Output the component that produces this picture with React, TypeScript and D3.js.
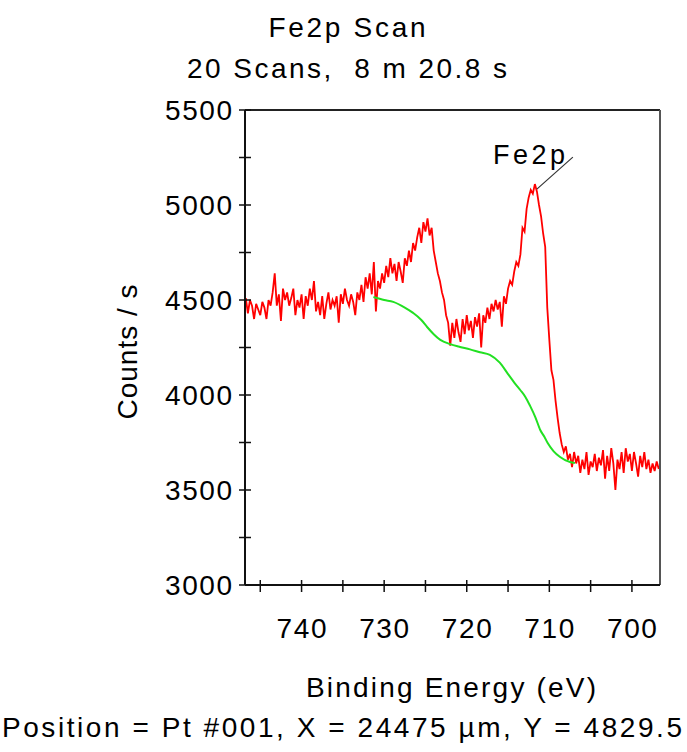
import React from "react";
import * as d3 from "d3";

// ---- data ----
const titleLines = ["Fe2p Scan", "20 Scans,  8 m 20.8 s"];
const xLabel = "Binding Energy (eV)";
const yLabel = "Counts / s";
const footer = "Position = Pt #001, X = 24475 \u00b5m, Y = 4829.5";

const xDomain = [746.85, 696.6];
const yDomain = [3000, 5500];
const xTickValues = [745, 740, 735, 730, 725, 720, 715, 710, 705, 700];
const xTickLabels = [740, 730, 720, 710, 700];
const yTickValues = [3000, 3250, 3500, 3750, 4000, 4250, 4500, 4750, 5000, 5250, 5500];
const yTickLabels = [3000, 3500, 4000, 4500, 5000, 5500];

// raw spectrum: first energy and step (eV), then counts/s
const energyStart = 746.75;
const energyStep = -0.25;
const spectrumCounts = [
  4510, 4430, 4500, 4470, 4400, 4480, 4450, 4420, 4490, 4460, 4400, 4500, 4470, 4540, 4640, 4470,
  4530, 4390, 4560, 4500, 4540, 4470, 4510, 4560, 4420, 4500, 4460, 4530, 4400, 4520, 4470, 4560,
  4500, 4600, 4440, 4490, 4420, 4520, 4400, 4480, 4540, 4450, 4500, 4470, 4520, 4380, 4530, 4480,
  4560, 4500, 4470, 4530, 4490, 4420, 4540, 4500, 4580, 4490, 4620, 4560, 4640, 4530, 4700, 4440,
  4600, 4560, 4640, 4590, 4680, 4620, 4720, 4640, 4690, 4600, 4700, 4650, 4590, 4720, 4680, 4760,
  4700, 4800, 4760, 4830, 4880, 4800, 4910, 4860, 4930, 4840, 4880, 4760, 4700, 4640, 4600, 4540,
  4500, 4420, 4380, 4260, 4380, 4300, 4400, 4330, 4280, 4400, 4320, 4420, 4340, 4390, 4300, 4410,
  4360, 4430, 4250, 4420, 4380, 4460, 4400, 4480, 4440, 4500, 4450, 4490, 4360, 4520, 4480, 4560,
  4600, 4580, 4650, 4700, 4680, 4740, 4880, 4860, 4980, 5040, 5080, 5060, 5110, 5070, 5000, 4940,
  4850, 4780, 4460, 4290, 4130, 4080, 3970, 3880, 3800, 3740, 3700, 3730, 3660, 3690, 3620, 3700,
  3640, 3680, 3590, 3660, 3610, 3700, 3580, 3650, 3620, 3690, 3600, 3670, 3630, 3710, 3560, 3680,
  3600, 3720, 3640, 3500, 3660, 3610, 3700, 3590, 3720, 3650, 3690, 3600, 3700, 3640, 3570, 3680,
  3620, 3700, 3610, 3660, 3590, 3640, 3600, 3650, 3610,
];

// Shirley background (eV, counts/s)
const bgEnergy = [731.3, 730.0, 728.9, 727.5, 726.5, 725.5, 724.8, 724.0, 723.2, 722.0, 721.0, 719.6, 718.4, 717.2, 716.0, 715.0, 714.2, 713.5, 712.9, 712.3, 711.7, 711.1, 710.6, 710.2, 709.5, 708.7, 707.5, 706.9];
const bgCounts = [4516, 4500, 4490, 4460, 4432, 4395, 4358, 4320, 4290, 4268, 4255, 4240, 4225, 4211, 4170, 4110, 4063, 4025, 3990, 3940, 3884, 3816, 3780, 3747, 3705, 3674, 3647, 3642];

const peakLabel = "Fe2p";
const peakEnergy = 711.75;
const peakCounts = 5110;

const FONT = "'Liberation Sans', Arial, sans-serif";

export default function App() {
  const W = 687, H = 752;
  const left = 245, right = 660, top = 110, bottom = 585;
  const x = d3.scaleLinear().domain(xDomain).range([left, right]);
  const y = d3.scaleLinear().domain(yDomain).range([bottom, top]);

  const spectrum = spectrumCounts.map((c, i) => [energyStart + i * energyStep, c] as [number, number]);
  const background = bgEnergy.map((e, i) => [e, bgCounts[i]] as [number, number]);

  const line = d3.line<[number, number]>().x(d => x(d[0])).y(d => y(d[1]));
  const bgLine = d3.line<[number, number]>().x(d => x(d[0])).y(d => y(d[1])).curve(d3.curveMonotoneX);

  const px = x(peakEnergy), py = y(peakCounts);

  return (
    <svg width={W} height={H} style={{ position: "absolute", left: 0, top: 0, background: "#fff" }}>
      <rect x={0} y={0} width={W} height={H} fill="#fff" />
      <g fontFamily={FONT} fill="#000">
        <text x={347} y={37} fontSize={28} textAnchor="middle" textLength={157} lengthAdjust="spacing">{titleLines[0]}</text>
        <text x={347} y={78} fontSize={28} textAnchor="middle" textLength={320} lengthAdjust="spacing" style={{ whiteSpace: "pre" }}>{titleLines[1]}</text>
      </g>
      <defs>
        <clipPath id="plotclip">
          <rect x={left} y={top} width={right - left} height={bottom - top} />
        </clipPath>
      </defs>
      <g clipPath="url(#plotclip)">
        <path d={line(spectrum) || ""} fill="none" stroke="#ff0000" strokeWidth={1.8} />
        <path d={bgLine(background) || ""} fill="none" stroke="#22e022" strokeWidth={2} />
      </g>
      {/* frame */}
      <line x1={left} x2={right} y1={top} y2={top} stroke="#222" strokeWidth={2} />
      <line x1={right} x2={right} y1={top} y2={bottom} stroke="#555" strokeWidth={2} />
      <line x1={left} x2={left} y1={top} y2={bottom} stroke="#111" strokeWidth={2} />
      <line x1={left} x2={right} y1={bottom} y2={bottom} stroke="#111" strokeWidth={2} />
      {/* y ticks */}
      {yTickValues.map(v => (
        <line key={"yt" + v} x1={left - 6} x2={left + 6} y1={y(v)} y2={y(v)} stroke="#111" strokeWidth={1.5} />
      ))}
      {yTickLabels.map(v => (
        <text key={"yl" + v} x={232} y={y(v)} dy="0.36em" textAnchor="end" fontSize={28} fontFamily={FONT} textLength={67} lengthAdjust="spacing">{v}</text>
      ))}
      {/* x ticks */}
      {xTickValues.map(v => (
        <line key={"xt" + v} x1={x(v)} x2={x(v)} y1={bottom - 5} y2={bottom + 7} stroke="#111" strokeWidth={1.5} />
      ))}
      {xTickLabels.map(v => (
        <text key={"xl" + v} x={x(v)} y={638} textAnchor="middle" fontSize={28} fontFamily={FONT} textLength={50} lengthAdjust="spacing">{v}</text>
      ))}
      {/* peak annotation */}
      <line x1={px + 2} x2={px + 38} y1={py + 5} y2={py - 27} stroke="#333" strokeWidth={1.2} />
      <text x={493} y={164} fontSize={27} fontFamily={FONT} textLength={72} lengthAdjust="spacing">{peakLabel}</text>
      {/* axis titles */}
      <text x={451} y={697} textAnchor="middle" fontSize={28} fontFamily={FONT} textLength={290} lengthAdjust="spacing" style={{ whiteSpace: "pre" }}>{xLabel}</text>
      <text transform="translate(137,352) rotate(-90)" textAnchor="middle" fontSize={28} fontFamily={FONT} textLength={135} lengthAdjust="spacing">{yLabel}</text>
      <text x={2} y={737} fontSize={28} fontFamily={FONT} textLength={680} lengthAdjust="spacing">{footer}</text>
    </svg>
  );
}
